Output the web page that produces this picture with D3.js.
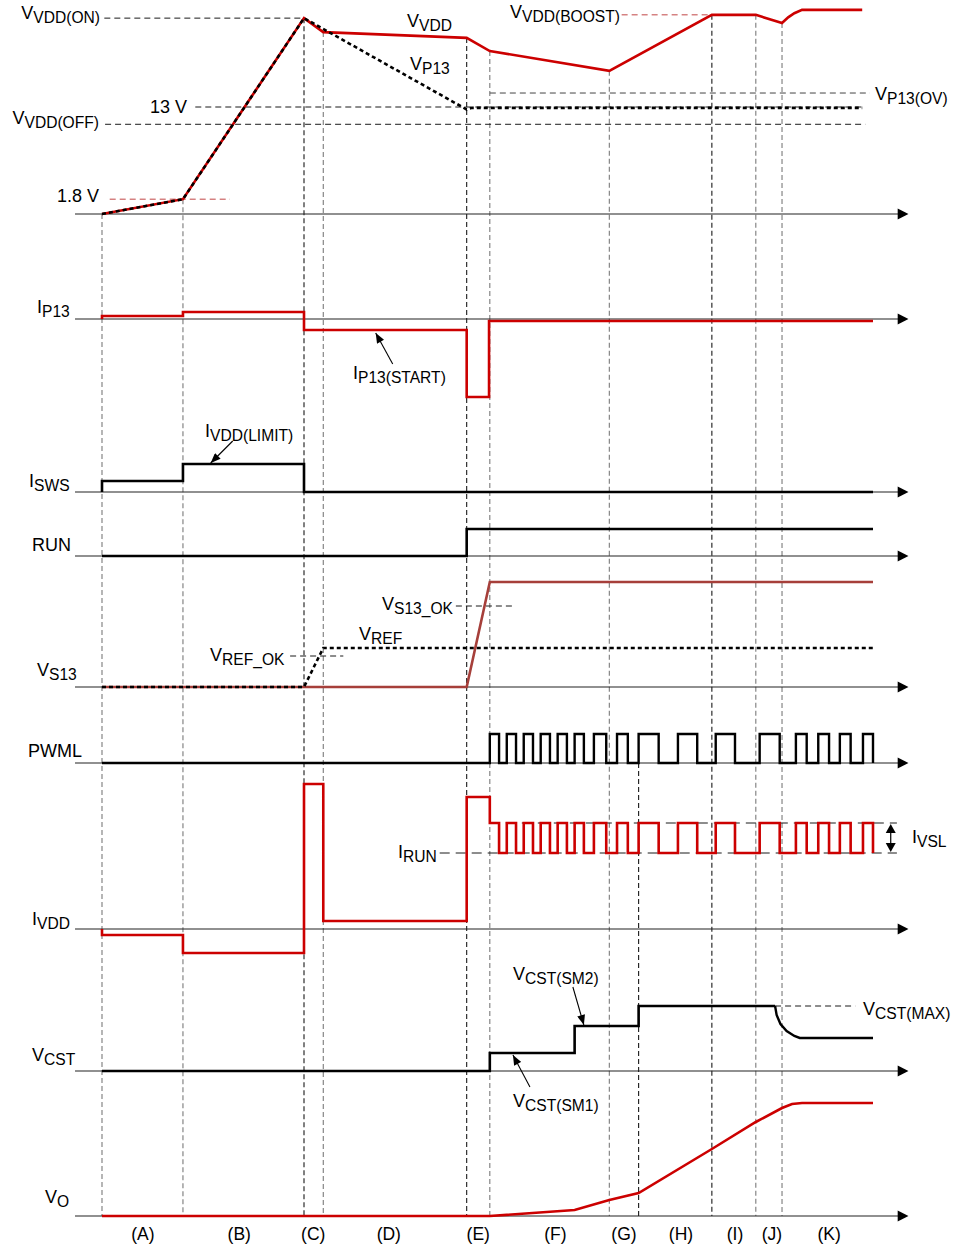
<!DOCTYPE html>
<html><head><meta charset="utf-8">
<script src="https://cdn.jsdelivr.net/npm/d3@7"></script>
<style>
body{margin:0;background:#fff}
text{font-family:"Liberation Sans",Arial,Helvetica,sans-serif;fill:#000}
</style>
</head><body>
<svg id="c" width="953" height="1247"></svg>
<script>
// ---------------- DATA (time in arbitrary units 0..100, levels in panel units) ----------------
const phaseLabels = ["(A)","(B)","(C)","(D)","(E)","(F)","(G)","(H)","(I)","(J)","(K)"];
const phaseLabelPos = [5.3,17.8,27.4,37.2,48.8,58.8,67.7,75.1,82.1,86.9,94.3];
const boundaries = [0,10.5,26.2,28.7,47.3,50.3,65.8,69.6,79.1,84.8,88.2];

// VDD panel (volts)
const vvddPts = [[0,0],[10.5,1.8],[26.2,23.8],[28.7,22.1],[47.3,21.4],[50.3,19.8],[65.8,17.4],[79.1,24.2],[84.8,24.2],[88.2,23.2],[89.0,23.9],[89.8,24.4],[90.8,24.8],[98.6,24.8]];
const vp13Pts = [[0,0],[10.5,1.8],[26.2,23.8],[47.3,12.7],[48.0,12.9],[98.6,12.9]];
const vddOn = 23.8, v13 = 13.0, vddOff = 10.9, vp13Ov = 14.7, v18 = 1.8, vddBoost = 24.2;

// current / logic panels
const ip13Steps = [[0,0],[0,0.3],[10.5,0.7],[26.2,-1.1],[47.3,-7.8],[50.2,-0.2],[100,-0.2]];
const iswsSteps = [[0,0],[0,1.1],[10.5,2.8],[26.2,0],[100,0]];
const runSteps  = [[0,0],[47.3,2.7],[100,2.7]];
const vs13Pts   = [[0,0],[47.3,0],[50.3,10.5],[100,10.5]];
const vrefPts   = [[0,0],[26.2,0],[28.7,3.9],[100,3.9]];
const vrefOk = 3.1, vs13Ok = 8.1;

const pwmlHigh = 2.9;
const pwmlPulses = [[50.3,51.5],[52.5,53.7],[54.7,55.9],[56.9,58.1],[59.1,60.3],[61.3,62.5],[63.8,65.4],[66.8,68.2],[69.6,72.2],[74.7,77.2],[79.6,82.1],[85.3,87.9],[90.0,91.4],[92.9,94.3],[95.7,97.1],[98.7,100]];

const ivddPre = [[0,0],[0,-0.6],[10.5,-2.4],[26.2,14.5],[28.7,0.8],[47.3,13.2]];
const ivslHigh = 10.6, irunLevel = 7.6;

const vcstSteps = [[0,0],[50.3,1.8],[61.3,4.5],[69.6,6.5],[87.3,6.5]];
const vcstDecay = [[87.3,6.5],[87.5,5.6],[88.0,4.7],[88.8,4.0],[89.8,3.5],[90.5,3.3],[100,3.3]];
const vcstMax = 6.5;

const voPts = [[0,0],[50.3,0],[61.3,0.6],[65.8,1.6],[69.6,2.3],[79.1,6.7],[84.8,9.4],[88.2,10.8],[89.5,11.2],[90.8,11.3],[100,11.3]];

// ---------------- LAYOUT ----------------
const layout = {
  vvdd:{axis:214, gain:8.23}, ip13:{axis:319, gain:10}, isws:{axis:492, gain:10},
  run:{axis:556, gain:10}, vs13:{axis:687, gain:10}, pwml:{axis:763, gain:10},
  ivdd:{axis:929, gain:10}, vcst:{axis:1071, gain:10}, vo:{axis:1216, gain:10}
};
const RED = "#cc0000", BROWN = "#a63f3a", DARK = "#1a1a1a", GRAY = "#7a7a7a";
const svg = d3.select("#c");
const x = d3.scaleLinear().domain([0,100]).range([102,873]);
const Y = {};
for (const k in layout) {
  const L = layout[k];
  Y[k] = d3.scaleLinear().domain([0,1]).range([L.axis, L.axis - L.gain]);
}

const defs = svg.append("defs");
defs.append("marker").attr("id","ah").attr("viewBox","0 0 10 8").attr("refX",10).attr("refY",4)
  .attr("markerWidth",11).attr("markerHeight",8).attr("markerUnits","userSpaceOnUse").attr("orient","auto")
  .append("path").attr("d","M0,0L10,4L0,8Z").attr("fill","#000");

// ---------------- vertical boundary lines ----------------
function interp(pts, t){
  for (let i=1;i<pts.length;i++){
    if (t <= pts[i][0]) {
      const a=pts[i-1], b=pts[i];
      return a[1] + (b[1]-a[1])*(t-a[0])/(b[0]-a[0]);
    }
  }
  return pts[pts.length-1][1];
}
const darkIdx = new Set([2,4,7,8]);
boundaries.forEach((t,i)=>{
  const top = (i===7) ? Y.pwml(0) : Y.vvdd(interp(vvddPts,t));
  svg.append("line").attr("x1",x(t)).attr("x2",x(t)).attr("y1",top).attr("y2",Y.vo(0))
    .attr("stroke", darkIdx.has(i)?DARK:GRAY).attr("stroke-width",1.1).attr("stroke-dasharray","5,3");
});

// ---------------- axes ----------------
for (const k in layout) {
  const y0 = Y[k](0);
  svg.append("line").attr("x1",x(-3.5)).attr("x2",x(103.3)).attr("y1",y0).attr("y2",y0)
    .attr("stroke","#222").attr("stroke-width",1.2);
  svg.append("path").attr("d",`M${x(103.2)},${y0-5.5}L${x(104.6)},${y0}L${x(103.2)},${y0+5.5}Z`).attr("fill","#000");
}

// ---------------- helpers ----------------
function hdash(t1,t2,yv,color,dash,w){
  svg.append("line").attr("x1",x(t1)).attr("x2",x(t2)).attr("y1",yv).attr("y2",yv)
    .attr("stroke",color).attr("stroke-width",w||1).attr("stroke-dasharray",dash||"6,4");
}
function trace(data, ys, color, opts={}){
  const line = d3.line().x(d=>x(d[0])).y(d=>ys(d[1])).curve(opts.step?d3.curveStepAfter:d3.curveLinear);
  svg.append("path").attr("d",line(data)).attr("fill","none").attr("stroke",color)
    .attr("stroke-width",opts.w||2.6).attr("stroke-dasharray",opts.dash||null)
    .attr("stroke-linejoin","miter");
}
function label(px, py, main, sub, anchor){
  const t = svg.append("text").attr("x",px).attr("y",py).attr("font-size",18).attr("text-anchor",anchor||"start");
  t.append("tspan").text(main);
  if (sub) t.append("tspan").attr("font-size",15.6).attr("dy",4).text(sub);
}
function arrow(x1,y1,x2,y2){
  svg.append("line").attr("x1",x1).attr("y1",y1).attr("x2",x2).attr("y2",y2)
    .attr("stroke","#000").attr("stroke-width",1.1).attr("marker-end","url(#ah)");
}

// ---------------- VDD panel ----------------
hdash(0.3,26.2,Y.vvdd(vddOn),DARK,"6,4");
hdash(12.1,99.0,Y.vvdd(v13),DARK,"6,4");
hdash(0.4,99.0,Y.vvdd(vddOff),DARK,"6,4");
hdash(50.3,99.6,Y.vvdd(vp13Ov),"#444","6,4");
hdash(1.0,16.6,Y.vvdd(v18),"#c04545","6,4");
hdash(67.4,79.1,Y.vvdd(vddBoost),"#c04545","6,4");
trace(vvddPts, Y.vvdd, RED, {w:2.6});
trace(vp13Pts, Y.vvdd, "#000", {w:2.6, dash:"4,3"});

label(100,19,"V","VDD(ON)","end");
label(187,113,"13 V",null,"end");
label(99,124,"V","VDD(OFF)","end");
label(99,202,"1.8 V",null,"end");
label(407,27,"V","VDD");
label(410,70,"V","P13");
label(510,18,"V","VDD(BOOST)");
label(875,100,"V","P13(OV)");

// ---------------- IP13 ----------------
trace(ip13Steps, Y.ip13, RED, {step:true});
label(37,313,"I","P13");
label(353,379,"I","P13(START)");
{ const tx=x(35.5), ty=Y.ip13(-1.1)+3; arrow(tx+17,ty+31,tx,ty); }

// ---------------- ISWS ----------------
trace(iswsSteps, Y.isws, "#000", {step:true});
label(29,487,"I","SWS");
label(205,437,"I","VDD(LIMIT)");
{ const tx=x(14.1), ty=Y.isws(2.8)-1; arrow(tx+22,ty-22,tx,ty); }

// ---------------- RUN ----------------
trace(runSteps, Y.run, "#000", {step:true});
label(32,551,"RUN",null);

// ---------------- VS13 / VREF ----------------
hdash(24.4,31.3,Y.vs13(vrefOk),DARK,"6,4");
hdash(45.9,53.6,Y.vs13(vs13Ok),DARK,"6,4");
trace(vs13Pts, Y.vs13, BROWN, {w:2.6});
trace(vrefPts, Y.vs13, "#000", {w:2.6, dash:"4,3"});
label(37,676,"V","S13");
label(359,640,"V","REF");
label(210,661,"V","REF_OK");
label(382,610,"V","S13_OK");

// ---------------- PWML ----------------
const pwmlPath = [[0,0]];
pwmlPulses.forEach(([s,e])=>{ pwmlPath.push([s,0],[s,pwmlHigh],[e,pwmlHigh],[e,0]); });
trace(pwmlPath, Y.pwml, "#000", {w:2.4});
label(28,757,"PWML",null);

// ---------------- IVDD ----------------
hdash(43.8,103.1,Y.ivdd(irunLevel),DARK,"10,6");
hdash(50.3,103.1,Y.ivdd(ivslHigh),DARK,"10,6");
const ivddAll = ivddPre.slice();
pwmlPulses.forEach(([s,e])=>{ ivddAll.push([s,ivslHigh],[e,irunLevel]); });
trace(ivddAll, Y.ivdd, RED, {step:true});
label(32,925,"I","VDD");
label(398,858,"I","RUN");
label(912,843,"I","VSL");
{ // double arrow IVSL
  const ax = x(102.3), yt = Y.ivdd(ivslHigh), yb = Y.ivdd(irunLevel);
  svg.append("line").attr("x1",ax).attr("x2",ax).attr("y1",yt+8).attr("y2",yb-8).attr("stroke","#000").attr("stroke-width",1.2);
  svg.append("path").attr("d",`M${ax},${yt+1}L${ax-5},${yt+10}L${ax+5},${yt+10}Z`).attr("fill","#000");
  svg.append("path").attr("d",`M${ax},${yb-1}L${ax-5},${yb-10}L${ax+5},${yb-10}Z`).attr("fill","#000");
}

// ---------------- VCST ----------------
hdash(87.3,97.7,Y.vcst(vcstMax),DARK,"6,4");
trace(vcstSteps, Y.vcst, "#000", {step:true});
trace(vcstDecay, Y.vcst, "#000", {w:2.4});
label(32,1061,"V","CST");
label(513,980,"V","CST(SM2)");
label(513,1107,"V","CST(SM1)");
label(863,1015,"V","CST(MAX)");
{ const tx=x(62.5), ty=Y.vcst(4.5)-1; arrow(tx-11,ty-38,tx,ty); }
{ const tx=x(53.3), ty=Y.vcst(1.8)+2; arrow(tx+17,ty+32,tx,ty); }

// ---------------- VO ----------------
trace(voPts, Y.vo, RED, {w:2.6});
label(45,1203,"V","O");

// phase labels
phaseLabels.forEach((p,i)=>{
  svg.append("text").attr("x",x(phaseLabelPos[i])).attr("y",1240).attr("font-size",17.5)
    .attr("text-anchor","middle").text(p);
});
</script>
</body></html>
